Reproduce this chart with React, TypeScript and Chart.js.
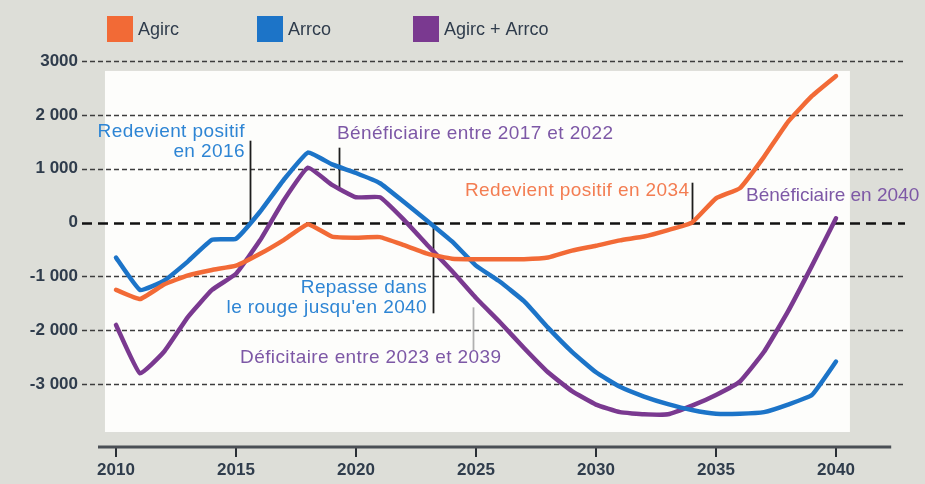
import { useEffect, useRef } from "react";
import { Chart, registerables } from "chart.js";

Chart.register(...registerables);

// ---------- data ----------
const years = [
  2010, 2011, 2012, 2013, 2014, 2015, 2016, 2017, 2018, 2019, 2020,
  2021, 2022, 2023, 2024, 2025, 2026, 2027, 2028, 2029, 2030,
  2031, 2032, 2033, 2034, 2035, 2036, 2037, 2038, 2039, 2040,
];
const agirc = [
  -1250, -1420, -1150, -980, -880, -800, -580, -320, -30, -260, -280,
  -270, -420, -580, -670, -680, -680, -680, -650, -520, -430,
  -330, -260, -140, 0, 450, 640, 1220, 1870, 2350, 2720,
];
const arrco = [
  -650, -1250, -1080, -720, -320, -300, 200, 800, 1300, 1080, 920,
  730, 380, 20, -350, -800, -1100, -1460, -1950, -2400, -2780,
  -3050, -3230, -3370, -3480, -3550, -3550, -3520, -3380, -3200, -2580,
];
const agircArrco = [
  -1900, -2800, -2400, -1750, -1250, -950, -330, 420, 1020, 700, 470,
  470, 50, -430, -900, -1400, -1850, -2330, -2780, -3130, -3380,
  -3520, -3560, -3560, -3400, -3200, -2950, -2400, -1650, -800, 80,
];
const seriesNames = ["Agirc", "Arrco", "Agirc + Arrco"];
const yTicks = [3000, 2000, 1000, 0, -1000, -2000, -3000];
const yTickLabels = ["3000", "2 000", "1 000", "0", "-1 000", "-2 000", "-3 000"];
const xTicks = [2010, 2015, 2020, 2025, 2030, 2035, 2040];

// ---------- style ----------
const ORANGE = "#f26a36";
const BLUE = "#1c74c8";
const PURPLE = "#7a3990";
const TXT_BLUE = "#2e85d4";
const TXT_PURPLE = "#7d58a6";
const TXT_ORANGE = "#f37d52";
const AXIS_TXT = "#2f3c4c";
const BG = "#dddeD8";
const FONT = '"Liberation Sans", Arial, sans-serif';

type Note = {
  lines: string[];
  color: string;
  align: CanvasTextAlign;
  x: number;
  ys: number[];
  spacing: string;
};

const notes: Note[] = [
  { lines: ["Redevient positif", "en 2016"], color: TXT_BLUE, align: "right", x: 2015.37, ys: [1685, 1315], spacing: "0.4px" },
  { lines: ["Bénéficiaire entre 2017 et 2022"], color: TXT_PURPLE, align: "left", x: 2019.21, ys: [1648], spacing: "0.4px" },
  { lines: ["Redevient positif en 2034"], color: TXT_ORANGE, align: "left", x: 2024.54, ys: [593], spacing: "0.4px" },
  { lines: ["Bénéficiaire en 2040"], color: TXT_PURPLE, align: "left", x: 2036.25, ys: [500], spacing: "0px" },
  { lines: ["Repasse dans", "le rouge jusqu'en 2040"], color: TXT_BLUE, align: "right", x: 2022.96, ys: [-1204, -1574], spacing: "0.4px" },
  { lines: ["Déficitaire entre 2023 et 2039"], color: TXT_PURPLE, align: "left", x: 2015.17, ys: [-2519], spacing: "0.4px" },
];

const leaders = [
  { x: 2015.58, y1: 1520, y2: 0, color: "#1d1d1d" },
  { x: 2019.29, y1: 1390, y2: 590, color: "#1d1d1d" },
  { x: 2034.0, y1: 740, y2: 0, color: "#1d1d1d" },
  { x: 2023.21, y1: 0, y2: -1685, color: "#1d1d1d" },
  { x: 2024.88, y1: -1574, y2: -2370, color: "#b0b0b0" },
];

const backgroundPlugin = {
  id: "plotBackground",
  beforeDatasetsDraw(chart: any) {
    const { ctx, scales } = chart;
    const xs = scales.x;
    const ys = scales.y;
    ctx.save();
    // white plot panel
    const l = xs.getPixelForValue(2009.54);
    const r = xs.getPixelForValue(2040.58);
    const t = ys.getPixelForValue(2815);
    const b = ys.getPixelForValue(-3889);
    ctx.fillStyle = "#fdfdfb";
    ctx.fillRect(l, t, r - l, b - t);
    // grid lines
    const ca = chart.chartArea;
    yTicks.forEach((v) => {
      const py = Math.round(ys.getPixelForValue(v)) + 0.5;
      ctx.beginPath();
      if (v === 0) {
        ctx.setLineDash([10, 6]);
        ctx.lineWidth = 2.6;
        ctx.strokeStyle = "#111";
      } else {
        ctx.setLineDash([5, 3]);
        ctx.lineWidth = 1.6;
        ctx.strokeStyle = "#3d3d3d";
      }
      ctx.moveTo(ca.left, py);
      ctx.lineTo(ca.right, py);
      ctx.stroke();
    });
    ctx.setLineDash([]);
    // leader lines
    leaders.forEach((ld) => {
      const px = Math.round(xs.getPixelForValue(ld.x)) + 0.5;
      ctx.beginPath();
      ctx.lineWidth = 1.8;
      ctx.strokeStyle = ld.color;
      ctx.moveTo(px, ys.getPixelForValue(ld.y1));
      ctx.lineTo(px, ys.getPixelForValue(ld.y2));
      ctx.stroke();
    });
    // x axis line
    ctx.beginPath();
    ctx.lineWidth = 3;
    ctx.strokeStyle = "#4a4f55";
    ctx.moveTo(xs.getPixelForValue(2009.25), ca.bottom);
    ctx.lineTo(xs.getPixelForValue(2042.3), ca.bottom);
    ctx.stroke();
    ctx.restore();
  },
};

const overlayPlugin = {
  id: "overlayText",
  afterDatasetsDraw(chart: any) {
    const { ctx, scales } = chart;
    const xs = scales.x;
    const ys = scales.y;
    ctx.save();
    ctx.font = `19px ${FONT}`;
    ctx.textBaseline = "middle";
    notes.forEach((n) => {
      (ctx as any).letterSpacing = n.spacing;
      ctx.fillStyle = n.color;
      ctx.textAlign = n.align;
      n.lines.forEach((line, i) => {
        ctx.fillText(line, xs.getPixelForValue(n.x), ys.getPixelForValue(n.ys[i]));
      });
    });
    ctx.restore();
  },
  afterDraw(chart: any) {
    const { ctx } = chart;
    const colors = [ORANGE, BLUE, PURPLE];
    const boxX = [107, 257, 413];
    ctx.save();
    ctx.font = `18px ${FONT}`;
    ctx.textBaseline = "middle";
    ctx.textAlign = "left";
    seriesNames.forEach((name, i) => {
      ctx.fillStyle = colors[i];
      ctx.fillRect(boxX[i], 16, 26, 26);
      ctx.fillStyle = AXIS_TXT;
      ctx.fillText(name, boxX[i] + 31, 30);
    });
    ctx.restore();
  },
};

export default function App() {
  const ref = useRef<HTMLCanvasElement | null>(null);

  useEffect(() => {
    if (!ref.current) return;
    const mk = (vals: number[]) => years.map((y, i) => ({ x: y, y: vals[i] }));
    const chart = new Chart(ref.current, {
      type: "line",
      data: {
        datasets: [
          { label: seriesNames[0], data: mk(agirc), borderColor: ORANGE, backgroundColor: ORANGE },
          { label: seriesNames[1], data: mk(arrco), borderColor: BLUE, backgroundColor: BLUE },
          { label: seriesNames[2], data: mk(agircArrco), borderColor: PURPLE, backgroundColor: PURPLE },
        ],
      },
      options: {
        responsive: false,
        animation: false,
        events: [],
        layout: { padding: { left: 0, right: 20, top: 55, bottom: 0 } },
        elements: {
          line: { borderWidth: 4.5, tension: 0.12, borderCapStyle: "round", borderJoinStyle: "round" },
          point: { radius: 0 },
        },
        plugins: {
          legend: { display: false },
          tooltip: { enabled: false },
        },
        scales: {
          x: {
            type: "linear",
            min: 2008.583,
            max: 2042.875,
            afterBuildTicks: (s: any) => {
              s.ticks = xTicks.map((v) => ({ value: v }));
            },
            afterFit: (s: any) => {
              s.height = 37;
            },
            grid: {
              drawOnChartArea: false,
              drawTicks: true,
              tickLength: 10,
              color: "#2a2f35",
              lineWidth: 2,
            },
            border: { display: false },
            ticks: {
              padding: 3,
              color: AXIS_TXT,
              font: { family: FONT, size: 17, weight: "bold" },
              callback: (v: any) => String(v),
              maxRotation: 0,
            },
          },
          y: {
            type: "linear",
            min: -4167,
            max: 3111,
            afterBuildTicks: (s: any) => {
              s.ticks = yTicks.map((v) => ({ value: v }));
            },
            afterFit: (s: any) => {
              s.width = 82;
            },
            grid: { display: false, drawTicks: false },
            border: { display: false },
            ticks: {
              padding: 4,
              color: AXIS_TXT,
              font: { family: FONT, size: 17, weight: "bold" },
              callback: (v: any) => {
                const idx = yTicks.indexOf(Number(v));
                return idx >= 0 ? yTickLabels[idx] : "";
              },
            },
          },
        },
      },
      plugins: [backgroundPlugin, overlayPlugin],
    });
    return () => chart.destroy();
  }, []);

  return (
    <div
      style={{
        position: "fixed",
        left: 0,
        top: 0,
        width: 925,
        height: 484,
        background: BG,
        overflow: "hidden",
      }}
    >
      <canvas ref={ref} width={925} height={484} style={{ display: "block", width: 925, height: 484 }} />
    </div>
  );
}
